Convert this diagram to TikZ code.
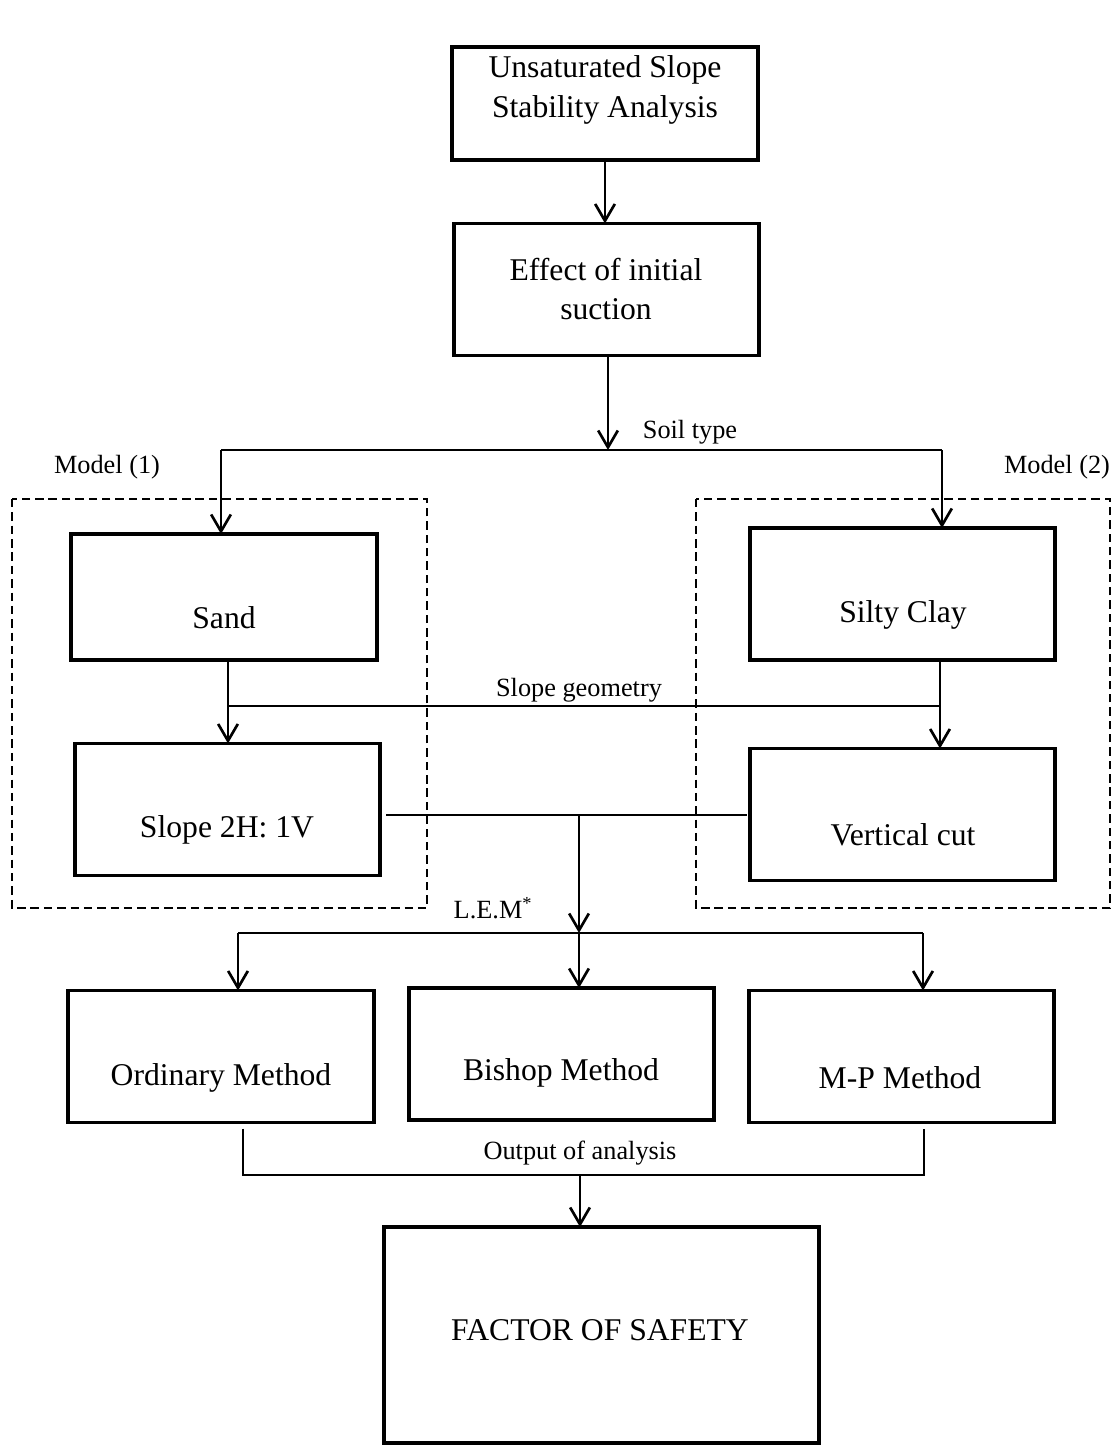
\documentclass[tikz,border=0pt]{standalone}
\usepackage{fontspec}
\setmainfont{Liberation Serif}
\usetikzlibrary{arrows.meta,positioning}

\begin{document}
\begin{tikzpicture}[x=0.025cm,y=-0.025cm]
	\tikzstyle{box}
	  =[draw, line width=2.8pt, inner sep=0pt, outer sep=0pt,
	  minimum width=7.63cm, minimum height=3.3cm]
	\tikzstyle{txt}
	  =[font=\fontsize{22.5}{28}\selectfont, align=center, inner sep=0pt]
	\tikzstyle{lbl}=[font=\fontsize{18.7}{22}\selectfont, inner sep=0pt]
	\tikzstyle{link}=[line width=1.9pt]
	\tikzstyle{arr}=[link, -{Straight Barb[length=12pt,width=14pt]}]
	\tikzstyle{model}=[draw, line width=1pt, dash pattern=on 6pt off 3.5pt]

	\useasboundingbox (0,0) rectangle (1111,1446);

	% boxes
	\node[box, minimum height=2.83cm] (A) at (605,103.5) {};
	\node[box] (B) at (606.5,289.5) {};
	\node[box, minimum height=3.15cm] (sand) at (224,597) {};
	\node[box] (clay) at (902.5,594) {};
	\node[box] (slope) at (227.5,809.5) {};
	\node[box] (cut) at (902.5,814.5) {};
	\node[box] (ord) at (221,1056.5) {};
	\node[box] (bish) at (561.5,1054) {};
	\node[box] (mp) at (901.5,1056.5) {};
	\node[box, minimum width=10.88cm, minimum height=5.4cm] (fos)
	  at (601.5,1335) {};

	% box texts
	\node[txt] (At) at (605,90) {Unsaturated Slope\\Stability Analysis};
	\node[txt] (Bt) at (606,289) {Effect of initial\\suction};
	\node[txt] (sandt) at (224,618) {Sand};
	\node[txt] (clayt) at (903,615) {Silty Clay};
	\node[txt] (slopet) at (227,830) {Slope 2H: 1V};
	\node[txt] (cutt) at (903,835) {Vertical cut};
	\node[txt] (ordt) at (221,1078) {Ordinary Method};
	\node[txt] (bisht) at (561,1073) {Bishop Method};
	\node[txt] (mpt) at (900,1078) {M-P Method};
	\node[txt] (fost) at (600,1330) {FACTOR OF SAFETY};

	% model frames
	\draw[model] (12,499) rectangle (427,908);
	\draw[model] (696,499) rectangle (1110,908);
	\node[lbl] (m1) at (107,467) {Model (1)};
	\node[lbl] (m2) at (1057,467) {Model (2)};

	% soil type
	\draw[arr] (A.south) -- (A.south |- B.north);
	\coordinate (soil) at (608,450);
	\coordinate (soilL) at (221,450);
	\coordinate (soilR) at (942,450);
	\draw[arr] (B.south -| soil) -- (soil);
	\draw[link] (soilL) -- (soilR);
	\draw[arr] (soilL) -- (soilL |- sand.north);
	\draw[arr] (soilR) -- (soilR |- clay.north);
	\node[lbl] (soilt) at (690,432) {Soil type};

	% slope geometry
	\coordinate (geoL) at (228,706);
	\coordinate (geoR) at (940,706);
	\draw[line width=1.2pt] (geoL) -- (geoR);
	\draw[arr] (sand.south -| geoL) -- (geoL |- slope.north);
	\draw[arr] (clay.south -| geoR) -- (geoR |- cut.north);
	\node[lbl] (geot) at (579,690) {Slope geometry};

	% L.E.M
	\coordinate (lem) at (579,815);
	\coordinate (split) at (579,933);
	\coordinate (splitL) at (238,933);
	\coordinate (splitR) at (923,933);
	\draw[link] ([xshift=0.15cm]slope.east |- lem) -- ([xshift=-0.08cm]cut.west |- lem);
	\draw[arr] (lem) -- (split);
	\draw[link] (splitL) -- (splitR);
	\draw[arr] (splitL) -- (splitL |- ord.north);
	\draw[arr] (split) -- (split |- bish.north);
	\draw[arr] (splitR) -- (splitR |- mp.north);
	\node[lbl] (lemt) at (493,908) {L.E.M\textsuperscript{*}};

	% output
	\coordinate (outL) at (243,1175);
	\coordinate (outR) at (924,1175);
	\coordinate (out) at (580,1175);
	\draw[link] ([yshift=-0.15cm]ord.south -| outL) -- (outL) -- (outR)
	  -- ([yshift=-0.15cm]mp.south -| outR);
	\draw[arr] (out) -- (out |- fos.north);
	\node[lbl] (outt) at (580,1153) {Output of analysis};
\end{tikzpicture}
\end{document}
